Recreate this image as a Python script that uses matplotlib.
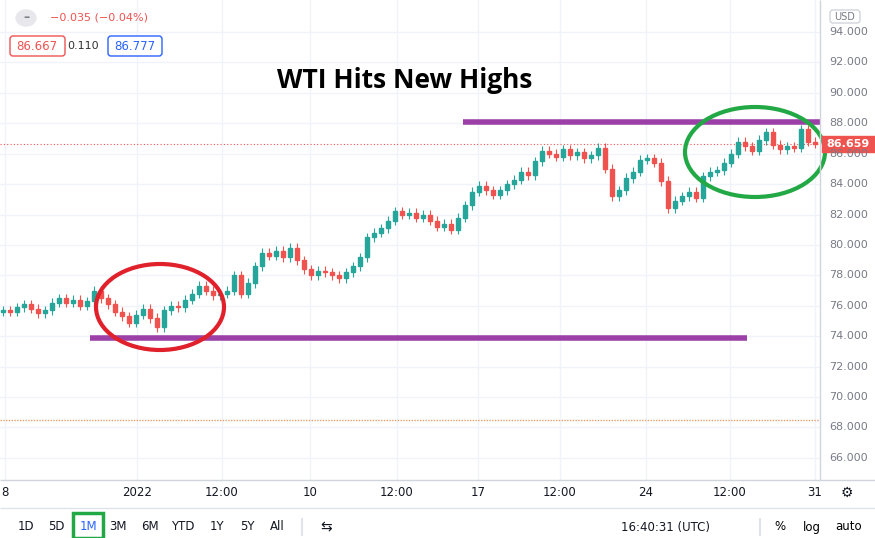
import matplotlib
matplotlib.use("Agg")
import matplotlib.pyplot as plt
from matplotlib.patches import Ellipse, FancyBboxPatch, Rectangle

closes = [75.7,75.6,75.9,76.1,75.8,75.5,75.7,76.2,76.5,76.2,76.4,76.0,76.3,77.0,76.5,76.1,75.6,75.3,74.9,75.4,
75.8,75.2,74.6,75.7,76.0,75.9,76.4,76.8,77.3,77.0,76.7,76.8,77.0,78.0,76.8,77.5,78.6,79.5,79.3,79.6,
79.2,79.8,79.0,78.4,78.0,78.3,78.2,78.0,77.8,78.2,78.6,79.2,80.5,80.8,81.1,81.6,82.2,82.0,82.1,81.8,
82.0,81.6,81.2,81.4,81.0,81.8,82.6,83.5,83.9,83.6,83.3,83.6,84.0,84.3,84.8,84.6,85.5,86.2,86.0,85.8,
86.3,85.9,86.1,85.7,85.9,86.4,85.0,83.2,83.6,84.4,84.8,85.6,85.7,85.4,84.2,82.4,82.9,83.2,83.5,83.1,
84.5,84.8,84.9,85.4,86.0,86.8,86.5,86.2,86.9,87.4,86.6,86.3,86.5,86.4,87.6,86.8,86.66]
first_open = 75.6
price_ticks = [66,68,70,72,74,76,78,80,82,84,86,88,90,92,94]
x_tick_px = [5,137,222,310,397,478,560,646,730,815]
x_tick_labels = ["8","2022","12:00","10","12:00","17","12:00","24","12:00","31"]
resist, support, old_level, last = 88.1, 73.9, 68.5, 86.659

W, H = 875, 538
fig = plt.figure(figsize=(W/100, H/100), dpi=100)
ax = fig.add_axes([0, 58/H, 820/W, 1-58/H])
px = lambda p: (p-3)/7.0
ax.set_xlim(px(0), px(820))
ylo = 94 - (480-32)/15.21
yhi = 94 + 32/15.21
ax.set_ylim(ylo, yhi)
for s in ax.spines.values(): s.set_visible(False)
ax.set_xticks([]); ax.set_yticks([])
for p in price_ticks:
    ax.axhline(p, color="#f0f3fa", lw=1, zorder=0)
for p in x_tick_px:
    ax.axvline(px(p), color="#f0f3fa", lw=1, zorder=0)

opens = [first_open] + closes[:-1]
for i, (o, c) in enumerate(zip(opens, closes)):
    col = "#26a69a" if c >= o else "#ef5350"
    ax.vlines(i, min(o, c)-0.3, max(o, c)+0.3, color=col, lw=0.8, zorder=2)
    ax.add_patch(Rectangle((i-0.22, min(o, c)), 0.44, max(abs(c-o), 0.03), color=col, zorder=3))

ax.hlines(resist, px(463), px(820), color="#9c40a8", lw=4, zorder=4)
ax.hlines(support, px(90), px(747), color="#9c40a8", lw=4, zorder=4)
ax.axhline(old_level, color="#e8a070", lw=1, ls=(0, (1, 1)), zorder=1)
ax.axhline(last, color="#ef5350", lw=0.8, ls=(0, (1, 2)), zorder=1)

ov = fig.add_axes([0, 0, 1, 1]); ov.set_xlim(0, W); ov.set_ylim(H, 0); ov.axis("off")
ov.add_patch(Ellipse((160, 307), 128, 86, fill=False, ec="#e0202a", lw=3))
ov.add_patch(Ellipse((755, 152), 140, 90, fill=False, ec="#22a845", lw=3))
ov.text(405, 81, "WTI Hits New Highs", ha="center", va="center", fontsize=19, fontweight="bold", family="Open Sans")
ov.vlines(820, 0, 480, color="#d1d4dc", lw=1)
for p in price_ticks:
    y = 32 + (94-p)*15.21
    ov.text(868, y, f"{p:.3f}", ha="right", va="center", fontsize=8, color="#787b86")
ov.add_patch(Rectangle((822, 136), 53, 16, color="#ef5350"))
ov.text(848, 144, f"{last:.3f}", ha="center", va="center", fontsize=8, color="white", fontweight="bold")
ov.add_patch(FancyBboxPatch((830, 10), 30, 13, boxstyle="round,pad=0,rounding_size=3", fc="white", ec="#d1d4dc"))
ov.text(845, 17, "USD", ha="center", va="center", fontsize=7, color="#787b86")
ov.hlines(480, 0, W, color="#d1d4dc", lw=1)
for p, l in zip(x_tick_px, x_tick_labels):
    ov.text(p, 493, l, ha="center", va="center", fontsize=8.5, color="#131722")
ov.text(847, 493, "⚙", ha="center", va="center", fontsize=10, color="#131722")
ov.hlines(508, 0, W, color="#e0e3eb", lw=1)
ov.add_patch(Ellipse((26, 18), 20, 16, color="#e8e8ec"))
ov.text(26, 18, "–", ha="center", va="center", fontsize=9, color="#787b86", fontweight="bold")
ov.text(50, 18, "−0.035 (−0.04%)", va="center", fontsize=8, color="#ef5350")
ov.add_patch(FancyBboxPatch((10, 36), 55, 20, boxstyle="round,pad=0,rounding_size=3", fc="white", ec="#ef5350"))
ov.text(37, 46, "86.667", ha="center", va="center", fontsize=8.5, color="#ef5350")
ov.text(83, 46, "0.110", ha="center", va="center", fontsize=8, color="#333")
ov.add_patch(FancyBboxPatch((108, 36), 54, 20, boxstyle="round,pad=0,rounding_size=3", fc="white", ec="#2962ff"))
ov.text(135, 46, "86.777", ha="center", va="center", fontsize=8.5, color="#2962ff")
for x, t in [(26,"1D"),(56,"5D"),(88,"1M"),(118,"3M"),(150,"6M"),(183,"YTD"),(217,"1Y"),(247,"5Y"),(277,"All")]:
    ov.text(x, 527, t, ha="center", va="center", fontsize=8.5, color="#2962ff" if t=="1M" else "#131722")
ov.add_patch(Rectangle((73, 513), 30, 25, fill=False, ec="#22a845", lw=2.5))
ov.vlines(302, 518, 536, color="#e0e3eb")
ov.text(326, 527, "⇆", ha="center", va="center", fontsize=10, color="#131722")
ov.text(710, 527, "16:40:31 (UTC)", ha="right", va="center", fontsize=8.5, color="#131722")
ov.vlines(760, 518, 536, color="#e0e3eb")
ov.text(780, 527, "%", ha="center", va="center", fontsize=8.5)
ov.text(812, 527, "log", ha="center", va="center", fontsize=8.5)
ov.text(849, 527, "auto", ha="center", va="center", fontsize=8.5)
fig.savefig("out.png", dpi=100)
